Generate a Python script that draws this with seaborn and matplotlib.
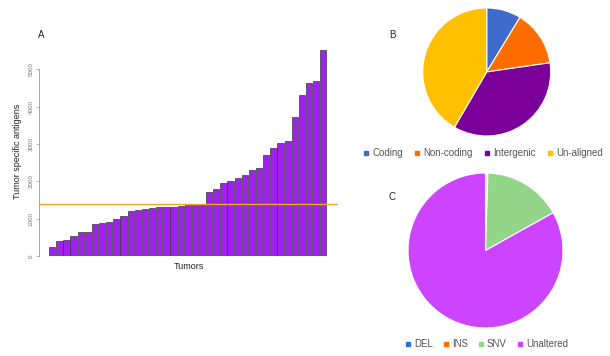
import numpy as np
import pandas as pd
import matplotlib
matplotlib.use("Agg")
import matplotlib.pyplot as plt
from matplotlib.lines import Line2D
import seaborn as sns

# panel A: tumor specific antigens per tumor (sorted)
antigens = [250, 393, 437, 545, 643, 643, 848, 884, 920, 1000,
            1063, 1214, 1232, 1250, 1286, 1304, 1313, 1321, 1340, 1384,
            1393, 1393, 1705, 1804, 1955, 2009, 2089, 2179, 2304, 2348,
            2705, 2902, 3036, 3080, 3723, 4304, 4634, 4688, 5527]
cutoff = 1400
yticks = [0, 1000, 2000, 3000, 4000, 5000]

# panel B: location of antigens (%)
loc_labels = ["Coding", "Non-coding", "Intergenic", "Un-aligned"]
loc_values = [8.7, 14.0, 35.7, 41.6]
loc_colors = ["#3D6ACB", "#FF6D01", "#7B0099", "#FFC000"]

# panel C: variant type (%)
var_labels = ["DEL", "INS", "SNV", "Unaltered"]
var_values = [0.15, 0.35, 16.4, 83.1]
var_colors = ["#3D6ACB", "#FF6D01", "#93D68A", "#CC44FF"]

sns.set_style("white")
plt.rcParams['font.family'] = ['Liberation Sans', 'DejaVu Sans']

fig = plt.figure(figsize=(6.1, 3.56), dpi=100)

# ---- A
ax = fig.add_axes([0.064, 0.281, 0.49, 0.587])
df = pd.DataFrame({"tumor": range(len(antigens)), "antigens": antigens})
sns.barplot(data=df, x="tumor", y="antigens", color="#A020F0", saturation=1,
            width=0.88, edgecolor="#3a3a3a", linewidth=0.5, ax=ax)
ax.axhline(cutoff, color="#F5A623", lw=1)
ax.set_xlim(-1.85, 40.05)
ax.set_ylim(0, 5600)
ax.set_xticks([])
ax.set_yticks(yticks)
ax.set_yticklabels([str(t) for t in yticks], rotation=90, va="center",
                   fontsize=4.5, color="#777777")
ax.tick_params(axis="y", length=2, width=0.5, color="#999999", pad=2, left=True)
for s in ["top", "right", "bottom"]:
    ax.spines[s].set_visible(False)
ax.spines["left"].set_bounds(0, 5000)
ax.spines["left"].set_color("#999999")
ax.spines["left"].set_linewidth(0.6)
ax.set_ylabel("Tumor specific antigens", fontsize=6.5, color="#222222", labelpad=5)
ax.set_xlabel("Tumors", fontsize=6.5, color="#222222", labelpad=4)
fig.text(38 / 610, 1 - 35 / 356, "A", fontsize=7, color="#222222", va="center")

# ---- B
axb = fig.add_axes([0.693, 0.618, 0.2098, 0.3596])
axb.pie(loc_values, colors=loc_colors, startangle=90, counterclock=False,
        wedgeprops=dict(edgecolor="white", linewidth=0.8))
axb.set_xlim(-1, 1)
axb.set_ylim(-1, 1)
fig.text(389 / 610, 1 - 35 / 356, "B", fontsize=7, color="#222222", va="center")

hb = [Line2D([], [], marker="s", ls="", color=c, markersize=2.5) for c in loc_colors]
fig.legend(hb, loc_labels, loc="center left", bbox_to_anchor=(363 / 610, 1 - 153 / 356),
           ncol=4, frameon=False, fontsize=7, handlelength=0.6, handletextpad=0.35,
           columnspacing=1.15, labelcolor="#555555", borderaxespad=0, borderpad=0)

# ---- C
axc = fig.add_axes([0.6689, 0.0787, 0.254, 0.4354])
axc.pie(var_values, colors=var_colors, startangle=90, counterclock=False,
        wedgeprops=dict(edgecolor="white", linewidth=0.8))
axc.set_xlim(-1, 1)
axc.set_ylim(-1, 1)
fig.text(389 / 610, 1 - 197 / 356, "C", fontsize=7, color="#222222", va="center")

hc = [Line2D([], [], marker="s", ls="", color=c, markersize=2.5) for c in var_colors]
fig.legend(hc, var_labels, loc="center left", bbox_to_anchor=(405 / 610, 1 - 344 / 356),
           ncol=4, frameon=False, fontsize=7, handlelength=0.6, handletextpad=0.35,
           columnspacing=1.0, labelcolor="#555555", borderaxespad=0, borderpad=0)

fig.savefig("out.png", dpi=100)
